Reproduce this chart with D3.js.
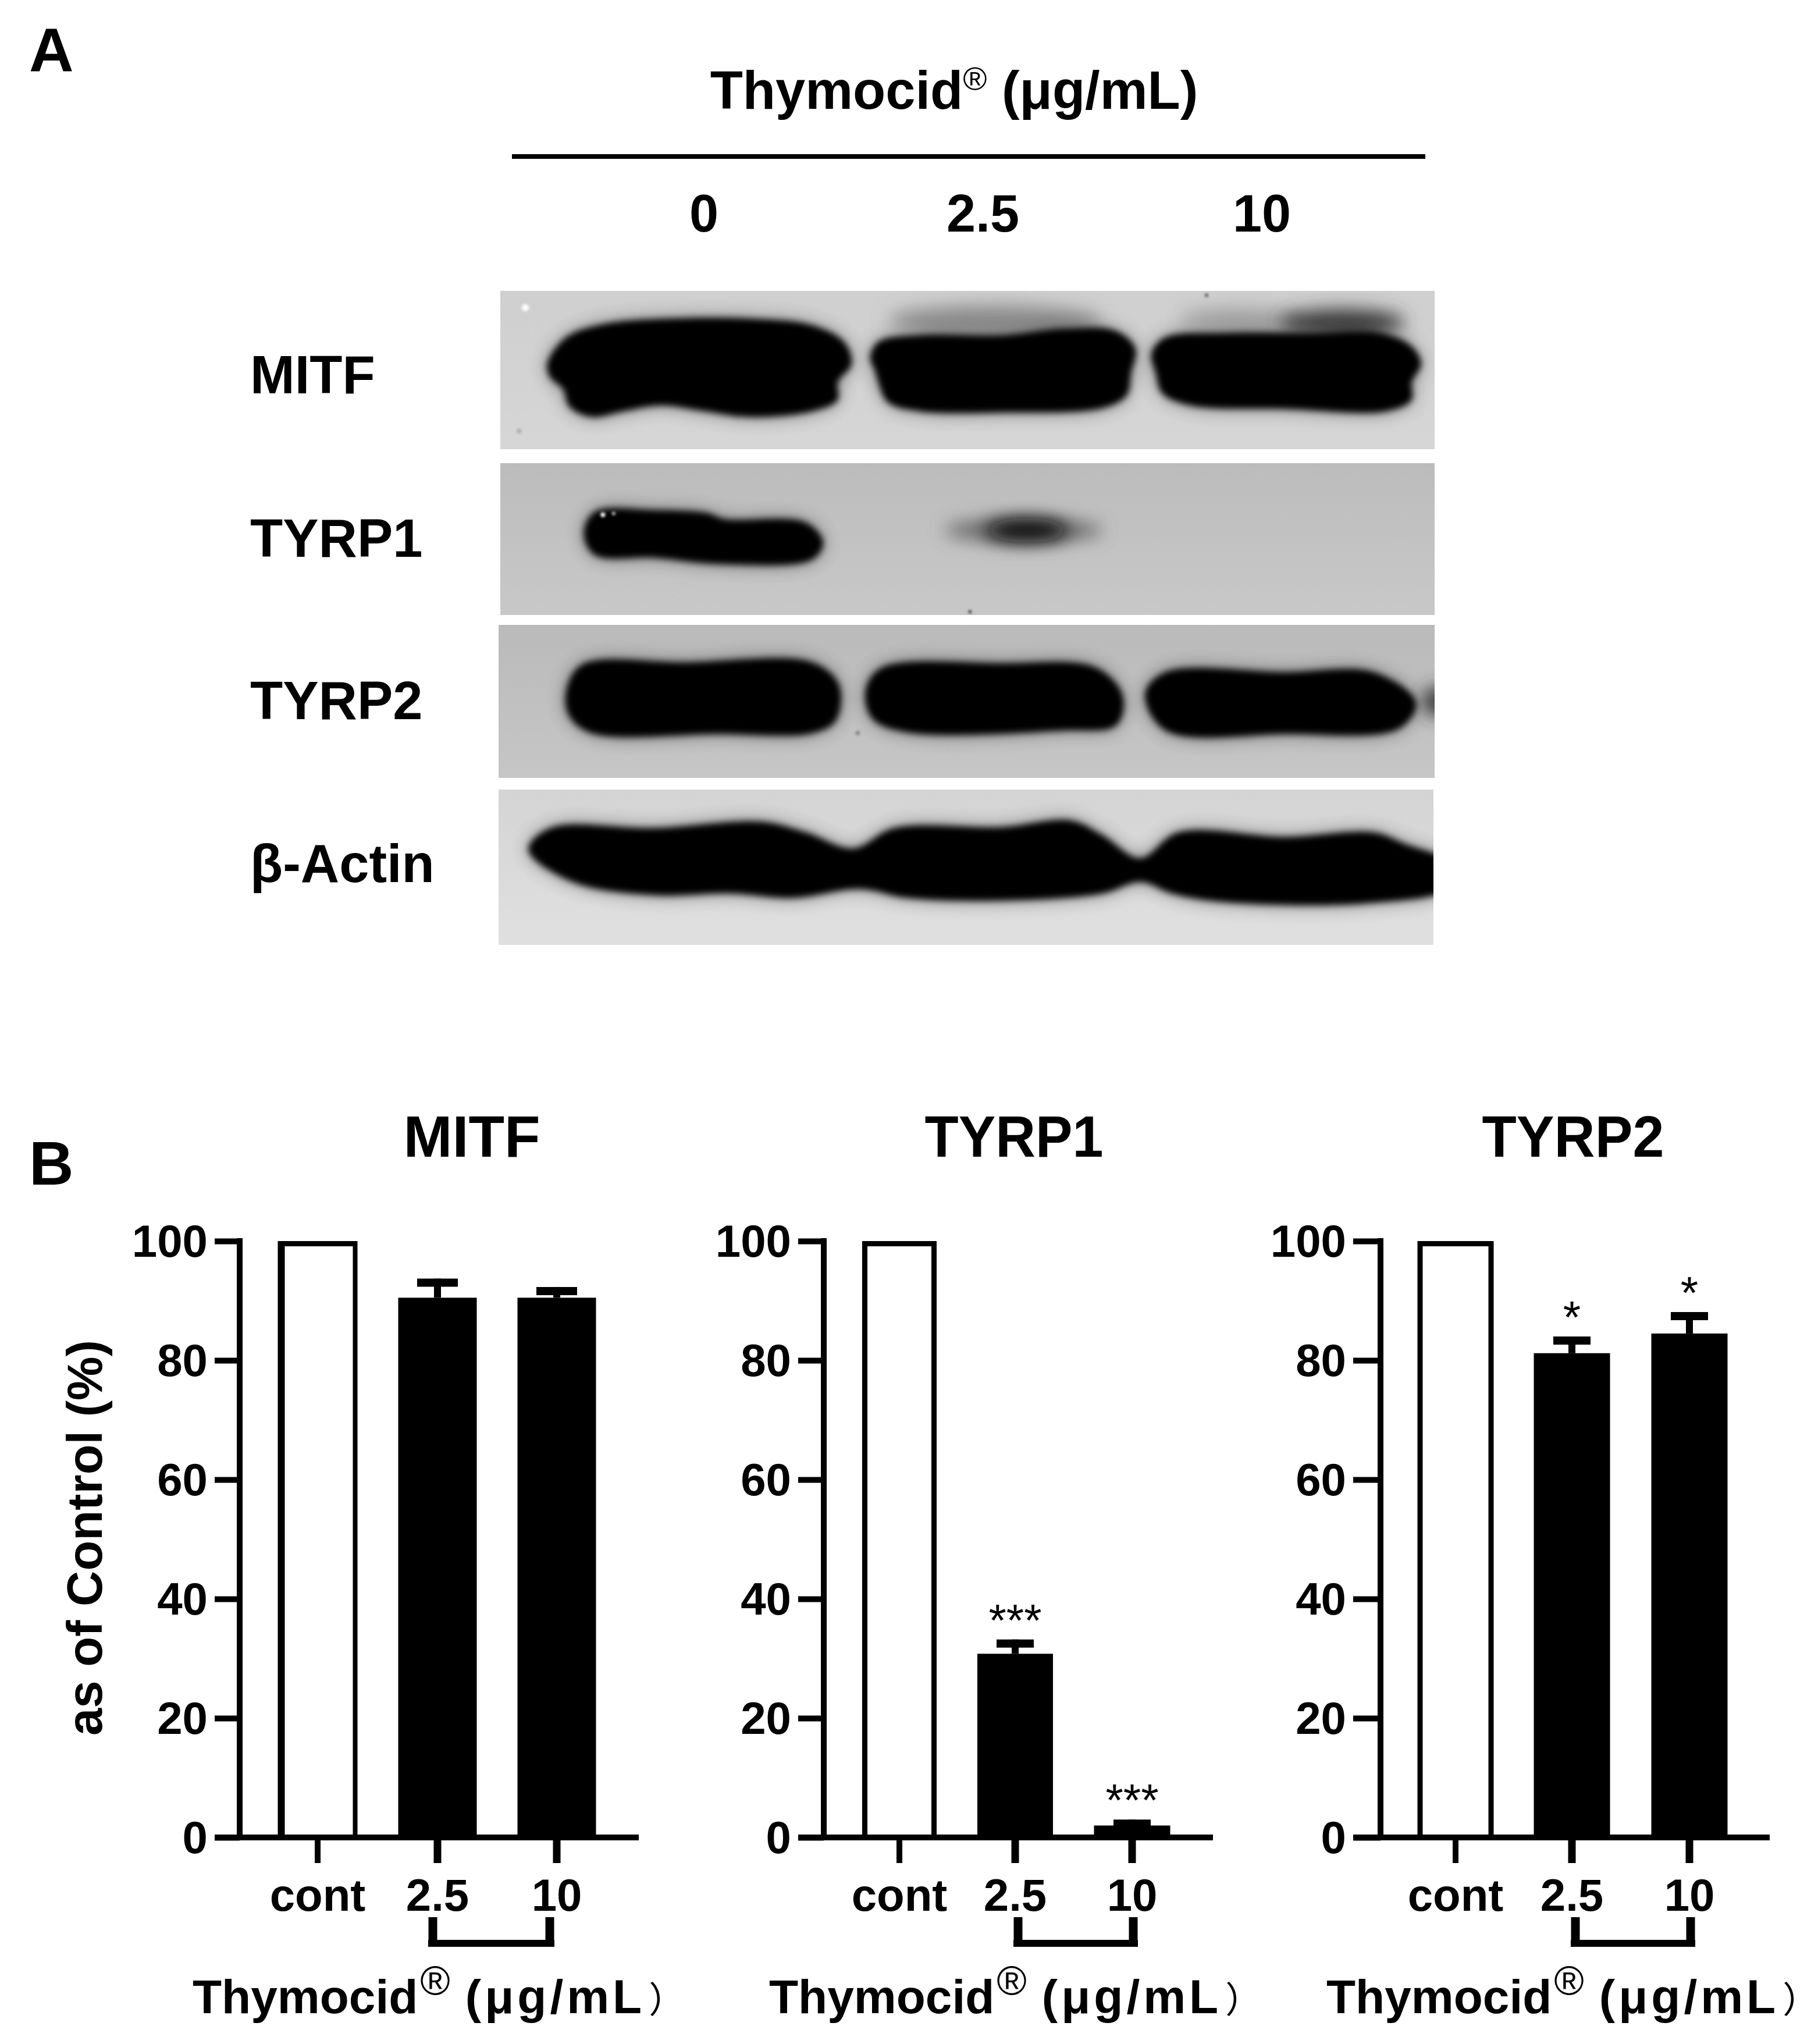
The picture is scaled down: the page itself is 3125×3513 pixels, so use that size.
<!DOCTYPE html>
<html><head><meta charset="utf-8">
<script src="https://cdn.jsdelivr.net/npm/d3@7"></script>
<style>html,body{margin:0;padding:0;background:#fff}svg{display:block}text{font-family:"Liberation Sans",Arial,sans-serif;fill:#000}</style>
</head><body><div id="c"></div>
<script>
// --- Data ---
const doseLabels = ["cont", "2.5", "10"];
const yTicks = [0, 20, 40, 60, 80, 100];
const panelTitles = ["MITF", "TYRP1", "TYRP2"];
const mitfValues = [100, 90.5, 90.5];
const mitfErrTop = [null, 93.7, 92.3];
const mitfStars = ["", "", ""];
const tyrp1Values = [100, 30.8, 2];
const tyrp1ErrTop = [null, 33.2, 3];
const tyrp1Stars = ["", "***", "***"];
const tyrp2Values = [100, 81.2, 84.5];
const tyrp2ErrTop = [null, 84, 88.1];
const tyrp2Stars = ["", "*", "*"];
const blotDoses = ["0", "2.5", "10"];
const blotRows = ["MITF", "TYRP1", "TYRP2", "β-Actin"];

// Western blot band outlines, in blot units
const mitfBands = [
 [[130,230],[160,170],[220,140],[320,128],[450,128],[550,143],[600,180],[612,230],[590,270],[590,310],[550,335],[450,348],[380,335],[310,322],[250,335],[200,348],[165,325],[155,285],[135,260]],
 [[642,215],[655,180],[720,165],[850,165],[950,150],[1030,155],[1062,195],[1055,250],[1048,300],[1010,328],[850,338],[720,335],[670,315],[655,270],[650,245]],
 [[1088,205],[1110,170],[1200,160],[1340,160],[1450,160],[1500,190],[1515,230],[1500,270],[1500,310],[1460,335],[1300,330],[1150,322],[1105,295],[1095,250]]];
const tyrp1Bands = [
 [[188,610],[205,562],[300,558],[385,565],[410,578],[540,586],[567,630],[550,668],[400,678],[300,664],[205,658]]];
const tyrp2Bands = [
 [[160,965],[185,905],[350,900],[550,900],[592,950],[587,1030],[550,1058],[400,1060],[200,1058],[165,1020]],
 [[635,960],[660,912],[850,902],[1000,912],[1042,975],[1032,1040],[950,1052],[700,1056],[645,1025]],
 [[1078,970],[1110,922],[1300,922],[1440,922],[1507,990],[1480,1048],[1300,1060],[1110,1052]]];
const actinBands = [
 [[100,1320],[135,1272],[300,1272],[470,1258],[540,1282],[615,1318],[680,1272],[850,1270],[960,1255],[1010,1288],[1070,1340],[1130,1282],[1300,1292],[1440,1282],[1490,1308],[1560,1350],[1560,1405],[1430,1440],[1200,1437],[1120,1418],[1070,1392],[1010,1418],[850,1434],[700,1428],[625,1408],[520,1428],[420,1418],[300,1422],[170,1392]]];
const smears = [
 {cx:840,cy:132,rx:170,ry:34,fill:"#8a8a8a"},{cx:1230,cy:130,rx:100,ry:26,fill:"#a0a0a0"},{cx:1390,cy:136,rx:100,ry:30,fill:"#3a3a3a"},
 {cx:885,cy:603,rx:125,ry:26,fill:"#666"},{cx:890,cy:603,rx:65,ry:26,fill:"#111"},
 {cx:1540,cy:987,rx:22,ry:34,fill:"#333"}];
const specks = [
 {cx:95,cy:103,r:6,fill:"#fff"},{cx:85,cy:380,r:4,fill:"#aaa"},{cx:1175,cy:75,r:3,fill:"#555"},
 {cx:218,cy:568,r:4,fill:"#fff"},{cx:235,cy:565,r:3,fill:"#ccc"},{cx:800,cy:786,r:3,fill:"#444"},
 {cx:622,cy:1058,r:4,fill:"#888"}];

// --- Layout ---
const W = 3125, H = 3513;
const svg = d3.select("#c").append("svg").attr("width", W).attr("height", H).attr("viewBox", [0,0,W,H]);
svg.append("rect").attr("width",W).attr("height",H).attr("fill","#fff");
const defs = svg.append("defs");
const mkBlur=(id,s)=>defs.append("filter").attr("id",id).attr("x","-40%").attr("y","-80%").attr("width","180%").attr("height","260%")
  .append("feGaussianBlur").attr("stdDeviation",s);
mkBlur("blur",6); mkBlur("blurS",15); mkBlur("halo",16); mkBlur("soft",2);

const blotX = d3.scaleLinear().domain([0,1568]).range([800,2500]);
const blotY = d3.scaleLinear().domain([0,1568]).range([450,1650]);
const blotLine = d3.line().x(d=>blotX(d[0])).y(d=>blotY(d[1])).curve(d3.curveCatmullRomClosed.alpha(0.5));

const blotPanels = [
 {x0:860,x1:2466,y0:500,y1:772,top:"#cfcfcf",bot:"#d6d6d6",bands:mitfBands,labelY:676},
 {x0:860,x1:2466,y0:796,y1:1057,top:"#bcbcbc",bot:"#c8c8c8",bands:tyrp1Bands,labelY:957},
 {x0:857,x1:2466,y0:1074,y1:1337,top:"#bababa",bot:"#c6c6c6",bands:tyrp2Bands,labelY:1236},
 {x0:857,x1:2464,y0:1357,y1:1624,top:"#d4d4d4",bot:"#e0e0e0",bands:actinBands,labelY:1516}];

// --- Panel A ---
svg.append("text").attr("x",50).attr("y",123).attr("font-size",106).attr("font-weight",700).text("A");
const titleA = svg.append("text").attr("x",1640).attr("y",187).attr("text-anchor","middle").attr("font-size",92).attr("font-weight",700);
titleA.append("tspan").text("Thymocid");
titleA.append("tspan").attr("font-size",56).attr("font-weight",400).attr("dy",-32).text("®");
titleA.append("tspan").attr("dy",32).text(" (μg/mL)");
svg.append("line").attr("x1",880).attr("x2",2450).attr("y1",269).attr("y2",269).attr("stroke","#000").attr("stroke-width",8);
const doseX = d3.scalePoint().domain(blotDoses).range([1210,2169]);
svg.selectAll(".dose").data(blotDoses).join("text").attr("class","dose")
  .attr("x",d=>doseX(d)).attr("y",398).attr("text-anchor","middle").attr("font-size",90).attr("font-weight",700).text(d=>d);

blotPanels.forEach((p,i)=>{
  const gid="bg"+i, cid="clip"+i;
  const g=defs.append("linearGradient").attr("id",gid).attr("x1",0).attr("x2",0).attr("y1",0).attr("y2",1);
  g.append("stop").attr("offset",0).attr("stop-color",p.top);
  g.append("stop").attr("offset",1).attr("stop-color",p.bot);
  defs.append("clipPath").attr("id",cid).append("rect").attr("x",p.x0).attr("y",p.y0).attr("width",p.x1-p.x0).attr("height",p.y1-p.y0);
  const gr=svg.append("g").attr("clip-path",`url(#${cid})`);
  gr.append("rect").attr("x",p.x0).attr("y",p.y0).attr("width",p.x1-p.x0).attr("height",p.y1-p.y0).attr("fill",`url(#${gid})`);
  const inPanel=s=>blotY(s.cy)>p.y0&&blotY(s.cy)<p.y1;
  gr.selectAll(".sm").data(smears.filter(inPanel)).join("ellipse").attr("class","sm")
    .attr("cx",d=>blotX(d.cx)).attr("cy",d=>blotY(d.cy)).attr("rx",d=>blotX(d.rx)-blotX(0)).attr("ry",d=>blotY(d.ry)-blotY(0))
    .attr("fill",d=>d.fill).attr("filter","url(#blurS)");
  gr.selectAll(".ha").data(p.bands).join("path").attr("class","ha").attr("d",blotLine).attr("fill","#000").attr("opacity",0.45).attr("filter","url(#halo)");
  gr.selectAll(".bd").data(p.bands).join("path").attr("class","bd").attr("d",blotLine).attr("fill","#000").attr("filter","url(#blur)");
  gr.selectAll(".sp").data(specks.filter(inPanel)).join("circle").attr("class","sp")
    .attr("cx",d=>blotX(d.cx)).attr("cy",d=>blotY(d.cy)).attr("r",d=>d.r).attr("fill",d=>d.fill).attr("filter","url(#soft)");
  svg.append("text").attr("x",430).attr("y",p.labelY).attr("font-size",92).attr("font-weight",700).text(blotRows[i]);
});

// --- Panel B ---
svg.append("text").attr("x",50).attr("y",2036).attr("font-size",106).attr("font-weight",700).text("B");

const charts = [
 {title:panelTitles[0],values:mitfValues,err:mitfErrTop,stars:mitfStars,axisX:412,axisEnd:1098,tickStart:369,centers:[546,752,957],barW:[137,135,135],titleX:811,titleLen:235,brX:[744,945],labelX:331,capW:70,contEdge:[12,9,8]},
 {title:panelTitles[1],values:tyrp1Values,err:tyrp1ErrTop,stars:tyrp1Stars,axisX:1416,axisEnd:2085,tickStart:1372,centers:[1546,1745,1946],barW:[128,130,131],titleX:1743,titleLen:307,brX:[1750,1948],labelX:1322,capW:64,contEdge:[9,9,9]},
 {title:panelTitles[2],values:tyrp2Values,err:tyrp2ErrTop,stars:tyrp2Stars,axisX:2373,axisEnd:3042,tickStart:2326,centers:[2502,2702,2904],barW:[131,131,131],titleX:2704,titleLen:313,brX:[2708,2906],labelX:2280,capW:64,contEdge:[9,9,9]}];

const y = d3.scaleLinear().domain([0,100]).range([3158,2133]);
const FS = 78;

charts.forEach(c=>{
  const g = svg.append("g");
  const x = d3.scaleOrdinal().domain(doseLabels).range(c.centers);
  g.append("text").attr("x",c.titleX).attr("y",1988).attr("text-anchor","middle").attr("font-size",100).attr("font-weight",700)
    .attr("textLength",c.titleLen).attr("lengthAdjust","spacingAndGlyphs").text(c.title);

  const rows = doseLabels.map((d,i)=>({d,v:c.values[i],e:c.err[i],s:c.stars[i],w:c.barW[i]}));
  // error bars
  const eb = rows.filter(r=>r.e!=null);
  g.selectAll(".stem").data(eb).join("line").attr("class","stem")
    .attr("x1",r=>x(r.d)).attr("x2",r=>x(r.d)).attr("y1",r=>y(r.v)).attr("y2",r=>y(r.e)).attr("stroke","#000").attr("stroke-width",12);
  g.selectAll(".cap").data(eb).join("line").attr("class","cap")
    .attr("x1",r=>x(r.d)-c.capW/2).attr("x2",r=>x(r.d)+c.capW/2).attr("y1",r=>y(r.e)+7).attr("y2",r=>y(r.e)+7).attr("stroke","#000").attr("stroke-width",14);
  // bars: a black outer rectangle; the control gets a white interior
  g.selectAll(".bar").data(rows).join("rect").attr("class","bar")
    .attr("x",r=>x(r.d)-r.w/2).attr("width",r=>r.w).attr("y",r=>y(r.v)).attr("height",r=>y(0)-y(r.v)).attr("fill","#000");
  const [eL,eT,eR]=c.contEdge;
  g.selectAll(".barIn").data(rows.slice(0,1)).join("rect").attr("class","barIn")
    .attr("x",r=>x(r.d)-r.w/2+eL).attr("width",r=>r.w-eL-eR).attr("y",r=>y(r.v)+eT).attr("height",r=>y(0)-y(r.v)-eT).attr("fill","#fff");
  // stars
  g.selectAll(".star").data(rows.filter(r=>r.s)).join("text").attr("class","star")
    .attr("x",r=>x(r.d)).attr("y",r=>y(r.e)-6).attr("text-anchor","middle").attr("font-size",78).text(r=>r.s);

  // y axis
  const ya = g.append("g").attr("transform",`translate(${c.axisX},0)`)
    .call(d3.axisLeft(y).tickValues(yTicks).tickSize(c.axisX-c.tickStart).tickPadding(12).tickSizeOuter(0));
  ya.select(".domain").attr("stroke","#000").attr("stroke-width",10).attr("d",`M0,${y(100)-5}V${y(0)}`);
  ya.selectAll(".tick line").attr("stroke","#000").attr("stroke-width",10);
  ya.selectAll(".tick text").attr("font-size",FS).attr("font-weight",700).attr("font-family",'"Liberation Sans"').attr("dy","0.34em").attr("fill","#000");

  // x axis
  const xb = d3.scalePoint().domain(doseLabels).range([c.centers[0],c.centers[2]]);
  const xa = g.append("g").attr("transform",`translate(0,${y(0)})`)
    .call(d3.axisBottom(xb).tickSize(44).tickPadding(0).tickSizeOuter(0));
  xa.select(".domain").attr("stroke","#000").attr("stroke-width",10).attr("d",`M${c.tickStart},0H${c.axisEnd}`);
  xa.selectAll(".tick").attr("transform",d=>`translate(${x(d)},0)`);
  xa.selectAll(".tick line").attr("stroke","#000").attr("stroke-width",(d,i)=>i===0?10:13);
  xa.selectAll(".tick text").attr("font-size",FS).attr("font-weight",700).attr("font-family",'"Liberation Sans"').attr("y",126).attr("dy",0).attr("fill","#000");

  // bracket
  g.append("line").attr("x1",c.brX[0]-8).attr("x2",c.brX[1]+8).attr("y1",3340).attr("y2",3340).attr("stroke","#000").attr("stroke-width",12);
  g.selectAll(".brk").data(c.brX).join("line").attr("class","brk").attr("x1",d=>d).attr("x2",d=>d).attr("y1",3295).attr("y2",3346).attr("stroke","#000").attr("stroke-width",15);

  // x label
  const t = g.append("text").attr("x",c.labelX).attr("y",3460).attr("font-size",82).attr("font-weight",700);
  t.append("tspan").text("Thymocid");
  t.append("tspan").attr("font-size",70).attr("font-weight",400).attr("dy",-32).attr("dx",4).text("®");
  t.append("tspan").attr("dy",32).attr("dx",26).style("letter-spacing","6px").text("(μg/mL");
  t.append("tspan").attr("font-family",'"Noto Sans CJK SC"').attr("font-weight",400).attr("font-size",62).attr("dx",6).text("）");
});

svg.append("text").attr("transform","translate(175,2643) rotate(-90)").attr("text-anchor","middle").attr("font-size",85).attr("font-weight",700).text("as of Control (%)");
</script></body></html>
